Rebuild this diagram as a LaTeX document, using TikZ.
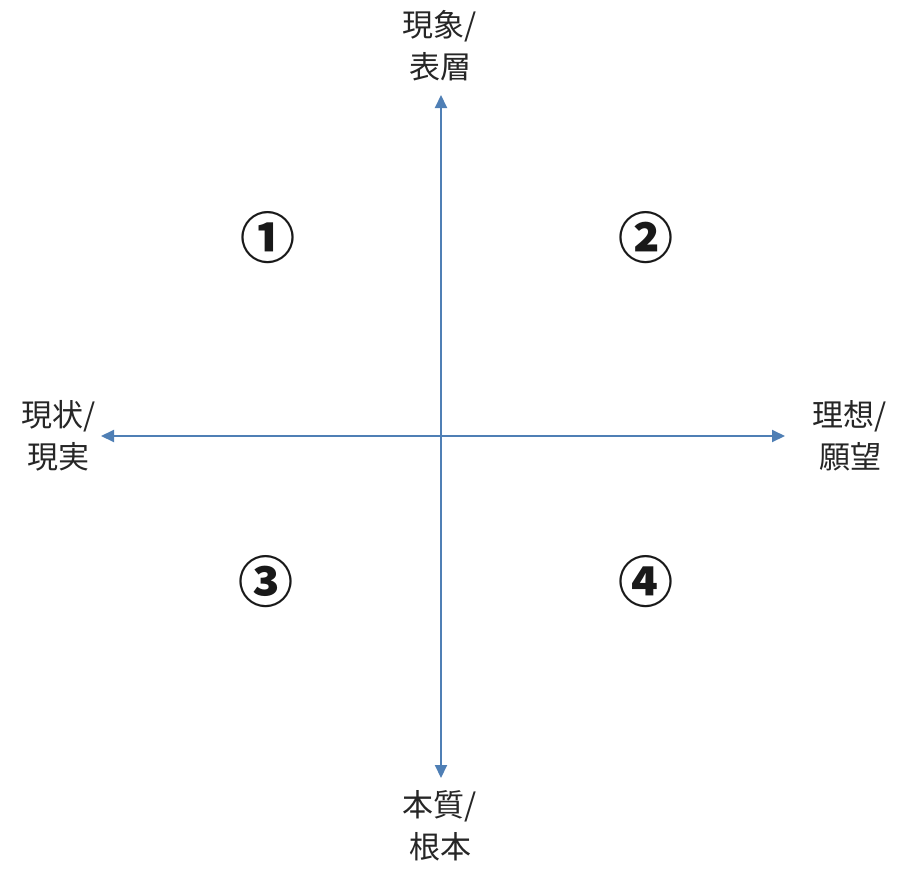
\documentclass[tikz,border=0pt]{standalone}
\usepackage{fontspec}
\newfontfamily\jpfont{Noto Sans CJK JP}
\usepackage{tikz}
\usetikzlibrary{arrows.meta}

\definecolor{axisblue}{HTML}{4F7FB5}

\begin{document}
\begin{tikzpicture}[
    x=1pt, y=-1pt,
    axis/.style={draw=axisblue, line width=2pt, {Triangle[length=13pt,width=12pt]}-{Triangle[length=13pt,width=12pt]}},
    pole/.style={font=\jpfont\fontsize{31}{42}\selectfont, align=center, inner sep=0pt, text=black!85},
    quad/.style={font=\jpfont\bfseries\fontsize{55}{55}\selectfont, inner sep=0pt, text=black!90}
]
\useasboundingbox (0,0) rectangle (914,889);

% Axis ends
\coordinate (centre) at (441,436);
\coordinate (topend) at (441,95);
\coordinate (bottomend) at (441,778);
\coordinate (leftend) at (101,436);
\coordinate (rightend) at (785,436);

% Axes
\draw[axis] (bottomend) -- (topend);
\draw[axis] (leftend) -- (rightend);

% Pole labels
\node[pole] (surface) at (440,46) {現象/\\表層};
\node[pole] (essence) at (440,826) {本質/\\根本};
\node[pole] (reality) at (59,436) {現状/\\現実};
\node[pole] (ideal) at (850,436) {理想/\\願望};

% Quadrants
\node[quad] (q1) at (268,238) {①};
\node[quad] (q2) at (646,238) {②};
\node[quad] (q3) at (266,582) {③};
\node[quad] (q4) at (646,582) {④};

\end{tikzpicture}
\end{document}
